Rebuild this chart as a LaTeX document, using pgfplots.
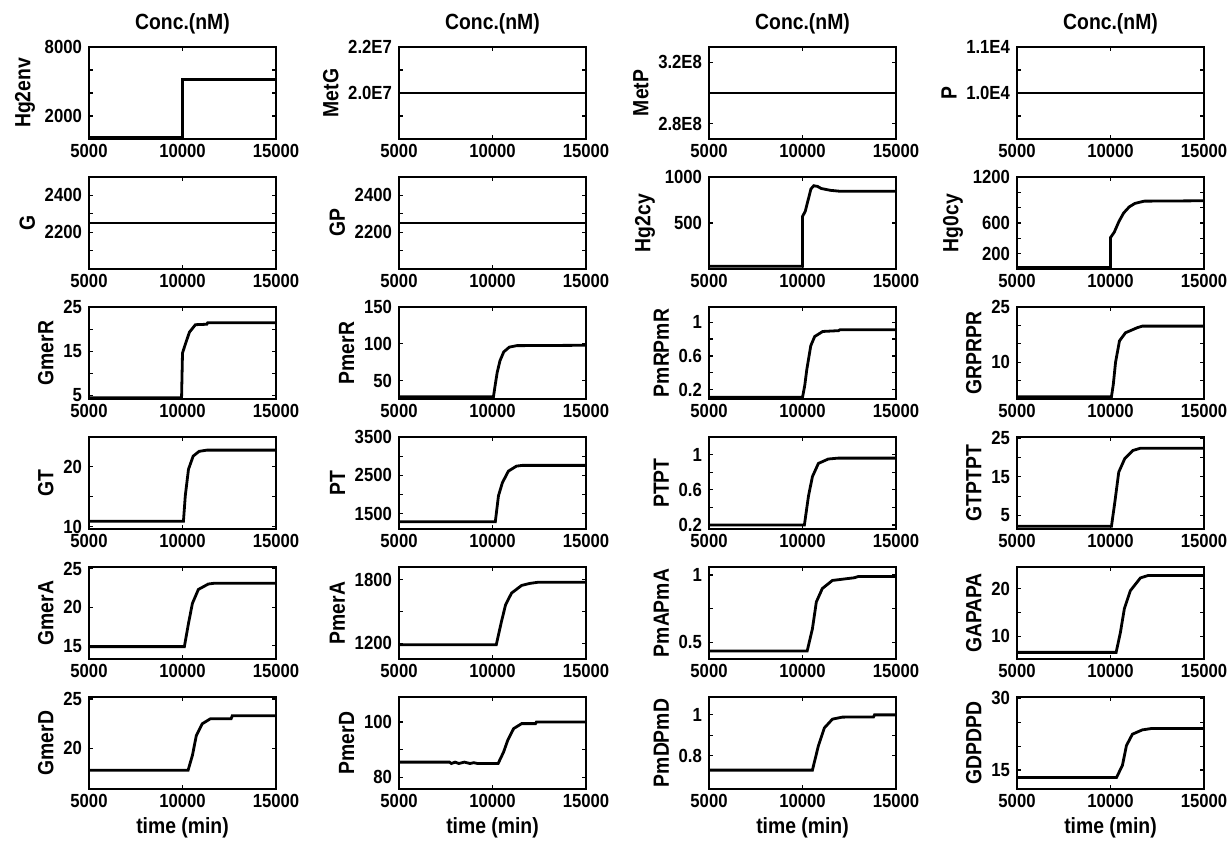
\documentclass[border=0pt]{standalone}
\usepackage{fontspec}
\setmainfont{Liberation Sans}[FakeStretch=0.88]
\usepackage{pgfplots}
\pgfplotsset{compat=1.18}

% one small MATLAB-like panel
\pgfplotsset{
  cell/.style={
    scale only axis, width=93.5pt, height=46pt, anchor=north west,
    xmin=5000, xmax=15000,
    xtick={5000,10000,15000}, xticklabels={5000,10000,15000},
    scaled ticks=false, tick align=inside, major tick length=2pt,
    axis line style={line width=0.9pt},
    every tick/.style={black, line width=0.6pt},
    tick label style={font=\fontsize{9.5}{10}\selectfont\bfseries},
    label style={font=\fontsize{11}{12}\selectfont\bfseries},
    title style={font=\fontsize{11}{12}\selectfont\bfseries, yshift=-3pt},
    xticklabel style={yshift=1pt},
    xlabel style={yshift=2pt},
    ylabel style={yshift=-2pt},
    no markers,
    every axis plot post/.append style={black, line width=1.4pt},
    /pgf/number format/assume math mode=true,
  },
}

\begin{document}
\begin{tikzpicture}
\path[use as bounding box] (0,0) rectangle (615pt,-420pt);

% ---------- row 1
\begin{axis}[cell, at={(44.5pt,-23.5pt)}, title={Conc.(nM)}, ylabel={Hg2env},
  ymin=0, ymax=8000, ytick={2000,4000,6000,8000}, yticklabels={2000,,,8000}]
\addplot coordinates {(5000,180) (10000,180) (10000,5150) (15000,5150)};
\end{axis}
\begin{axis}[cell, at={(199.5pt,-23.5pt)}, title={Conc.(nM)}, ylabel={MetG},
  ymin=1.8, ymax=2.2, ytick={1.9,2.0,2.1,2.2}, yticklabels={,2.0E7,,2.2E7}]
\addplot coordinates {(5000,2.0) (15000,2.0)};
\end{axis}
\begin{axis}[cell, at={(354.5pt,-23.5pt)}, title={Conc.(nM)}, ylabel={MetP},
  ymin=2.7, ymax=3.3, ytick={2.8,3.0,3.2}, yticklabels={2.8E8,,3.2E8}]
\addplot coordinates {(5000,3.0) (15000,3.0)};
\end{axis}
\begin{axis}[cell, at={(508.5pt,-23.5pt)}, title={Conc.(nM)}, ylabel={P},
  ymin=0.9, ymax=1.1, ytick={0.95,1.0,1.05,1.1}, yticklabels={,1.0E4,,1.1E4}]
\addplot coordinates {(5000,1.0) (15000,1.0)};
\end{axis}

% ---------- row 2
\begin{axis}[cell, at={(44.5pt,-88.5pt)}, ylabel={G},
  ymin=2000, ymax=2500, ytick={2100,2200,2300,2400}, yticklabels={,2200,,2400}]
\addplot coordinates {(5000,2250) (15000,2250)};
\end{axis}
\begin{axis}[cell, at={(199.5pt,-88.5pt)}, ylabel={GP},
  ymin=2000, ymax=2500, ytick={2100,2200,2300,2400}, yticklabels={,2200,,2400}]
\addplot coordinates {(5000,2250) (15000,2250)};
\end{axis}
\begin{axis}[cell, at={(354.5pt,-88.5pt)}, ylabel={Hg2cy},
  ymin=0, ymax=1000, ytick={500,1000}, yticklabels={500,1000}]
\addplot coordinates {(5000,30) (10000,30) (10000,570) (10150,630) (10300,750)
  (10450,870) (10600,905) (10800,898) (11000,875) (11500,855) (12000,845) (15000,845)};
\end{axis}
\begin{axis}[cell, at={(508.5pt,-88.5pt)}, ylabel={Hg0cy},
  ymin=0, ymax=1200, ytick={200,400,600,800,1000,1200}, yticklabels={200,,600,,,1200}]
\addplot coordinates {(5000,20) (10000,20) (10000,410) (10200,480) (10450,620)
  (10700,730) (11000,810) (11300,855) (11800,885) (15000,890)};
\end{axis}

% ---------- row 3
\begin{axis}[cell, at={(44.5pt,-153.5pt)}, ylabel={GmerR},
  ymin=4.2, ymax=25, ytick={5,10,15,20,25}, yticklabels={5,,15,,25}]
\addplot coordinates {(5000,4.5) (9950,4.5) (10000,14.6) (10160,16.7) (10370,19.3)
  (10690,21.0) (11300,21.1) (11350,21.45) (15000,21.45)};
\end{axis}
\begin{axis}[cell, at={(199.5pt,-153.5pt)}, ylabel={PmerR},
  ymin=25, ymax=150, ytick={50,100,150}]
\addplot coordinates {(5000,28) (10050,28) (10150,45) (10250,61) (10400,77)
  (10600,89) (10900,95.5) (11300,97.5) (15000,98)};
\end{axis}
\begin{axis}[cell, at={(354.5pt,-153.5pt)}, ylabel={PmRPmR},
  ymin=0.09, ymax=1.18, ytick={0.2,0.4,0.6,0.8,1}, yticklabels={0.2,,0.6,,1}]
\addplot coordinates {(5000,0.11) (10000,0.11) (10120,0.25) (10230,0.44) (10440,0.72)
  (10650,0.83) (11080,0.89) (11930,0.90) (12000,0.91) (15000,0.91)};
\end{axis}
\begin{axis}[cell, at={(508.5pt,-153.5pt)}, ylabel={GRPRPR},
  ymin=0, ymax=25, ytick={5,10,15,20,25}, yticklabels={,10,,,25}]
\addplot coordinates {(5000,0.6) (10050,0.6) (10150,4) (10270,10) (10480,15.8)
  (10800,18) (11440,19.4) (11700,19.8) (15000,19.8)};
\end{axis}

% ---------- row 4
\begin{axis}[cell, at={(44.5pt,-218.5pt)}, ylabel={GT},
  ymin=9.6, ymax=25, ytick={10,15,20,25}, yticklabels={10,,20,}]
\addplot coordinates {(5000,10.9) (10050,10.9) (10150,15.2) (10320,19.6) (10570,21.8)
  (10890,22.6) (11300,22.8) (15000,22.8)};
\end{axis}
\begin{axis}[cell, at={(199.5pt,-218.5pt)}, ylabel={PT},
  ymin=1100, ymax=3500, ytick={1500,2000,2500,3000,3500}, yticklabels={1500,,2500,,3500}]
\addplot coordinates {(5000,1290) (10150,1290) (10320,1970) (10530,2310) (10850,2610)
  (11280,2740) (11600,2760) (15000,2760)};
\end{axis}
\begin{axis}[cell, at={(354.5pt,-218.5pt)}, ylabel={PTPT},
  ymin=0.155, ymax=1.2, ytick={0.2,0.4,0.6,0.8,1}, yticklabels={0.2,,0.6,,1}]
\addplot coordinates {(5000,0.2) (10100,0.2) (10320,0.53) (10530,0.75) (10850,0.9)
  (11380,0.95) (11900,0.96) (15000,0.96)};
\end{axis}
\begin{axis}[cell, at={(508.5pt,-218.5pt)}, ylabel={GTPTPT},
  ymin=1.5, ymax=25.3, ytick={5,10,15,20,25}, yticklabels={5,,15,,25}]
\addplot coordinates {(5000,2.2) (10050,2.2) (10230,8.4) (10440,16.2) (10760,19.7)
  (11190,21.8) (11600,22.4) (15000,22.4)};
\end{axis}

% ---------- row 5
\begin{axis}[cell, at={(44.5pt,-283.5pt)}, ylabel={GmerA},
  ymin=13.3, ymax=25.2, ytick={15,20,25}]
\addplot coordinates {(5000,14.9) (10100,14.9) (10320,17.9) (10530,20.5) (10850,22.3)
  (11380,23.0) (11700,23.1) (15000,23.1)};
\end{axis}
\begin{axis}[cell, at={(199.5pt,-283.5pt)}, ylabel={PmerA},
  ymin=1050, ymax=1920, ytick={1200,1500,1800}, yticklabels={1200,,1800}]
\addplot coordinates {(5000,1184) (10200,1184) (10480,1405) (10700,1563) (11020,1674)
  (11560,1746) (12000,1765) (12400,1775) (15000,1775)};
\end{axis}
\begin{axis}[cell, at={(354.5pt,-283.5pt)}, ylabel={PmAPmA},
  ymin=0.375, ymax=1.06, ytick={0.5,0.75,1}, yticklabels={0.5,,1}]
\addplot coordinates {(5000,0.435) (10250,0.435) (10530,0.6) (10740,0.8) (11060,0.9)
  (11600,0.96) (12770,0.98) (13000,0.99) (15000,0.99)};
\end{axis}
\begin{axis}[cell, at={(508.5pt,-283.5pt)}, ylabel={GAPAPA},
  ymin=5.2, ymax=24.6, ytick={10,15,20}, yticklabels={10,,20}]
\addplot coordinates {(5000,6.6) (10300,6.6) (10530,10.8) (10740,15.8) (11060,19.6)
  (11600,22.3) (12000,22.8) (15000,22.8)};
\end{axis}

% ---------- row 6
\begin{axis}[cell, at={(44.5pt,-348.5pt)}, ylabel={GmerD}, xlabel={time (min)},
  ymin=15.9, ymax=25.2, ytick={20,25}]
\addplot coordinates {(5000,17.8) (10300,17.8) (10530,19.3) (10740,21.3) (11060,22.5)
  (11490,23.0) (12600,23.0) (12660,23.3) (15000,23.3)};
\end{axis}
\begin{axis}[cell, at={(199.5pt,-348.5pt)}, ylabel={PmerD}, xlabel={time (min)},
  ymin=75.8, ymax=109, ytick={80,90,100}, yticklabels={80,,100}]
\addplot coordinates {(5000,85.5) (7700,85.5) (7800,85) (8000,85.5) (8200,85) (8500,85.5)
  (8800,85) (9000,85.3) (9200,85) (10300,85) (10590,89.1) (10810,93.3) (11130,97.6)
  (11560,99.4) (12300,99.4) (12350,100) (15000,100)};
\end{axis}
\begin{axis}[cell, at={(354.5pt,-348.5pt)}, ylabel={PmDPmD}, xlabel={time (min)},
  ymin=0.635, ymax=1.088, ytick={0.8,0.9,1}, yticklabels={0.8,,1}]
\addplot coordinates {(5000,0.728) (10530,0.728) (10850,0.848) (11170,0.936) (11600,0.979)
  (12130,0.989) (13800,0.99) (13850,1.0) (15000,1.0)};
\end{axis}
\begin{axis}[cell, at={(508.5pt,-348.5pt)}, ylabel={GDPDPD}, xlabel={time (min)},
  ymin=11, ymax=30.3, ytick={15,20,25,30}, yticklabels={15,,,30}]
\addplot coordinates {(5000,13.4) (10320,13.4) (10640,16.0) (10850,20.1) (11170,22.5)
  (11700,23.4) (12200,23.7) (15000,23.7)};
\end{axis}

\end{tikzpicture}
\end{document}
